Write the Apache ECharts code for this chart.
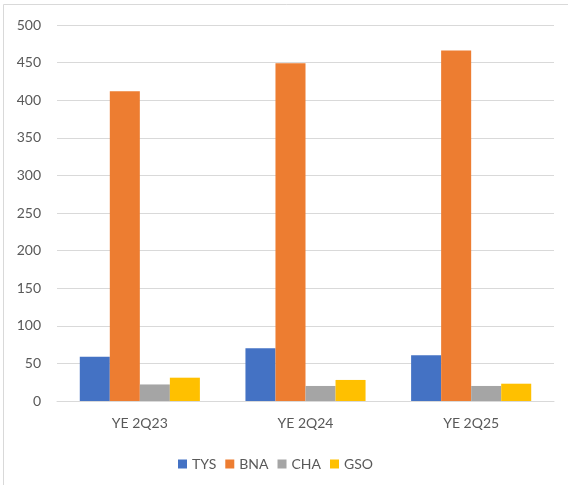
<!DOCTYPE html>
<html>
<head>
<meta charset="utf-8">
<script src="https://cdn.jsdelivr.net/npm/echarts@6/dist/echarts.min.js"></script>
<style>
  html, body { margin: 0; padding: 0; background: #fff; }
  #chart { width: 568px; height: 485px; }
</style>
</head>
<body>
<div id="chart"></div>
<script>
// categories and series values
var categories = ['YE 2Q23', 'YE 2Q24', 'YE 2Q25'];
var tys = [59, 70, 61];
var bna = [412, 449, 466];
var cha = [22, 20, 20];
var gso = [31, 28, 23];

var chart = echarts.init(document.getElementById('chart'));

function barSeries(name, data) {
  return {
    name: name,
    type: 'bar',
    data: data,
    barGap: 0,
    barCategoryGap: '27.5%'
  };
}

var option = {
  animation: false,
  color: ['#4472C4', '#ED7D31', '#A5A5A5', '#FFC000'],
  textStyle: { fontFamily: 'Lato, "Open Sans", sans-serif' },
  graphic: [{
    type: 'rect',
    shape: { x: 3.5, y: 4.5, width: 570, height: 490 },
    style: { fill: 'none', stroke: '#d9d9d9', lineWidth: 1 },
    silent: true
  }],
  grid: { left: 57, right: 14, top: 25, bottom: 84 },
  legend: {
    left: 173,
    top: 452,
    itemWidth: 9,
    itemHeight: 9,
    itemGap: 9,
    icon: 'rect',
    textStyle: { color: '#595959', fontSize: 14 },
    data: ['TYS', 'BNA', 'CHA', 'GSO']
  },
  xAxis: {
    type: 'category',
    data: categories,
    axisLine: { lineStyle: { color: '#d9d9d9' } },
    axisTick: { show: false },
    axisLabel: { color: '#595959', fontSize: 14, margin: 15 }
  },
  yAxis: {
    type: 'value',
    min: 0,
    max: 500,
    interval: 50,
    axisLine: { show: false },
    axisTick: { show: false },
    splitLine: { lineStyle: { color: '#d9d9d9' } },
    axisLabel: { color: '#595959', fontSize: 14, margin: 16 }
  },
  series: [
    barSeries('TYS', tys),
    barSeries('BNA', bna),
    barSeries('CHA', cha),
    barSeries('GSO', gso)
  ]
};

chart.setOption(option);
</script>
</body>
</html>
